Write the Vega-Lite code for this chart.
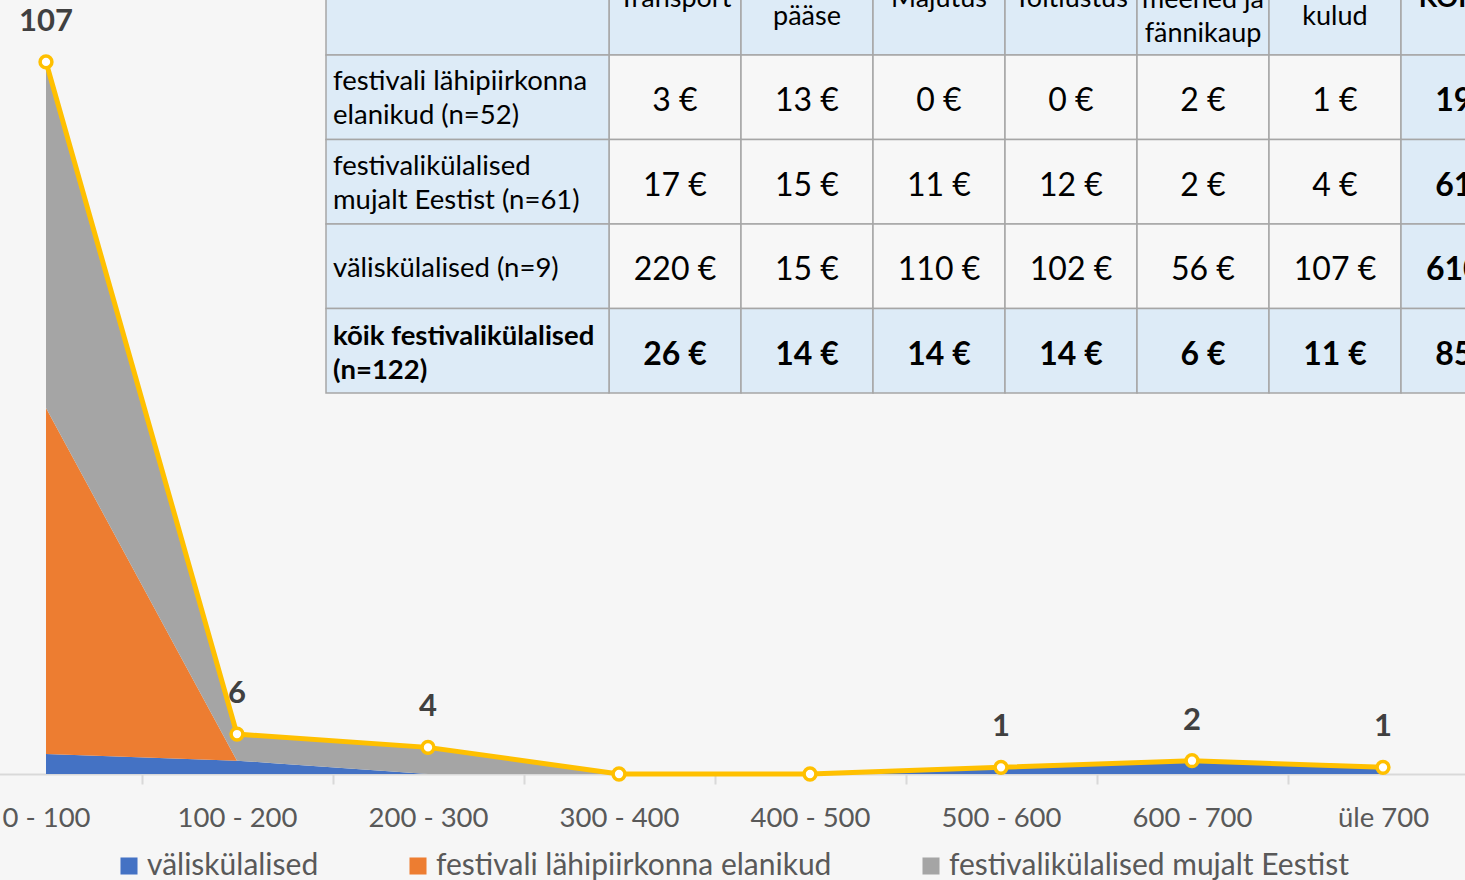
{
  "$schema": "https://vega.github.io/schema/vega-lite/v6.json",
  "width": 1465,
  "height": 774,
  "autosize": {"type": "none"},
  "padding": {"left": 0, "top": 0, "right": 0, "bottom": 106},
  "background": "#F6F6F6",
  "config": {
    "view": {"stroke": null},
    "font": "Lato",
    "axisX": {
      "domainColor": "#D9D9D9",
      "domainWidth": 2,
      "tickColor": "#D9D9D9",
      "tickWidth": 2,
      "tickSize": 10,
      "labelFont": "Lato",
      "labelFontSize": 27.5,
      "labelColor": "#595959",
      "labelPadding": 20,
      "labelAngle": 0,
      "tickBand": "extent",
      "grid": false
    }
  },
  "datasets": {
    "jaotus": [
      {"vahemik": "0 - 100", "grupp": "väliskülalised", "jrk": 1, "arv": 3},
      {"vahemik": "100 - 200", "grupp": "väliskülalised", "jrk": 1, "arv": 2},
      {"vahemik": "200 - 300", "grupp": "väliskülalised", "jrk": 1, "arv": 0},
      {"vahemik": "300 - 400", "grupp": "väliskülalised", "jrk": 1, "arv": 0},
      {"vahemik": "400 - 500", "grupp": "väliskülalised", "jrk": 1, "arv": 0},
      {"vahemik": "500 - 600", "grupp": "väliskülalised", "jrk": 1, "arv": 1},
      {"vahemik": "600 - 700", "grupp": "väliskülalised", "jrk": 1, "arv": 2},
      {"vahemik": "üle 700", "grupp": "väliskülalised", "jrk": 1, "arv": 1},
      {"vahemik": "0 - 100", "grupp": "festivali lähipiirkonna elanikud", "jrk": 2, "arv": 52},
      {"vahemik": "100 - 200", "grupp": "festivali lähipiirkonna elanikud", "jrk": 2, "arv": 0},
      {"vahemik": "200 - 300", "grupp": "festivali lähipiirkonna elanikud", "jrk": 2, "arv": 0},
      {"vahemik": "300 - 400", "grupp": "festivali lähipiirkonna elanikud", "jrk": 2, "arv": 0},
      {"vahemik": "400 - 500", "grupp": "festivali lähipiirkonna elanikud", "jrk": 2, "arv": 0},
      {"vahemik": "500 - 600", "grupp": "festivali lähipiirkonna elanikud", "jrk": 2, "arv": 0},
      {"vahemik": "600 - 700", "grupp": "festivali lähipiirkonna elanikud", "jrk": 2, "arv": 0},
      {"vahemik": "üle 700", "grupp": "festivali lähipiirkonna elanikud", "jrk": 2, "arv": 0},
      {"vahemik": "0 - 100", "grupp": "festivalikülalised mujalt Eestist", "jrk": 3, "arv": 52},
      {"vahemik": "100 - 200", "grupp": "festivalikülalised mujalt Eestist", "jrk": 3, "arv": 4},
      {"vahemik": "200 - 300", "grupp": "festivalikülalised mujalt Eestist", "jrk": 3, "arv": 4},
      {"vahemik": "300 - 400", "grupp": "festivalikülalised mujalt Eestist", "jrk": 3, "arv": 0},
      {"vahemik": "400 - 500", "grupp": "festivalikülalised mujalt Eestist", "jrk": 3, "arv": 0},
      {"vahemik": "500 - 600", "grupp": "festivalikülalised mujalt Eestist", "jrk": 3, "arv": 0},
      {"vahemik": "600 - 700", "grupp": "festivalikülalised mujalt Eestist", "jrk": 3, "arv": 0},
      {"vahemik": "üle 700", "grupp": "festivalikülalised mujalt Eestist", "jrk": 3, "arv": 0}
    ],
    "kokku": [
      {"vahemik": "0 - 100", "kokku": 107},
      {"vahemik": "100 - 200", "kokku": 6},
      {"vahemik": "200 - 300", "kokku": 4},
      {"vahemik": "300 - 400", "kokku": 0},
      {"vahemik": "400 - 500", "kokku": 0},
      {"vahemik": "500 - 600", "kokku": 1},
      {"vahemik": "600 - 700", "kokku": 2},
      {"vahemik": "üle 700", "kokku": 1}
    ],
    "tabel": [
      {"rida": "päis", "veerg": "Transport", "tekst": "Transport"},
      {"rida": "päis", "veerg": "Festivali pääse", "tekst": "Festivali\npääse"},
      {"rida": "päis", "veerg": "Majutus", "tekst": "Majutus"},
      {"rida": "päis", "veerg": "Toitlustus", "tekst": "Toitlustus"},
      {"rida": "päis", "veerg": "Suveniirid, meened ja fännikaup", "tekst": "Suveniirid,\nmeened ja\nfännikaup"},
      {"rida": "päis", "veerg": "Muud kulud", "tekst": "Muud\nkulud"},
      {"rida": "päis", "veerg": "KOKKU", "tekst": "KOKKU"},
      {"rida": "lähipiirkond", "veerg": "Transport", "tekst": "3 €"},
      {"rida": "lähipiirkond", "veerg": "Festivali pääse", "tekst": "13 €"},
      {"rida": "lähipiirkond", "veerg": "Majutus", "tekst": "0 €"},
      {"rida": "lähipiirkond", "veerg": "Toitlustus", "tekst": "0 €"},
      {"rida": "lähipiirkond", "veerg": "Suveniirid, meened ja fännikaup", "tekst": "2 €"},
      {"rida": "lähipiirkond", "veerg": "Muud kulud", "tekst": "1 €"},
      {"rida": "lähipiirkond", "veerg": "KOKKU", "tekst": "19 €"},
      {"rida": "mujalt", "veerg": "Transport", "tekst": "17 €"},
      {"rida": "mujalt", "veerg": "Festivali pääse", "tekst": "15 €"},
      {"rida": "mujalt", "veerg": "Majutus", "tekst": "11 €"},
      {"rida": "mujalt", "veerg": "Toitlustus", "tekst": "12 €"},
      {"rida": "mujalt", "veerg": "Suveniirid, meened ja fännikaup", "tekst": "2 €"},
      {"rida": "mujalt", "veerg": "Muud kulud", "tekst": "4 €"},
      {"rida": "mujalt", "veerg": "KOKKU", "tekst": "61 €"},
      {"rida": "välis", "veerg": "Transport", "tekst": "220 €"},
      {"rida": "välis", "veerg": "Festivali pääse", "tekst": "15 €"},
      {"rida": "välis", "veerg": "Majutus", "tekst": "110 €"},
      {"rida": "välis", "veerg": "Toitlustus", "tekst": "102 €"},
      {"rida": "välis", "veerg": "Suveniirid, meened ja fännikaup", "tekst": "56 €"},
      {"rida": "välis", "veerg": "Muud kulud", "tekst": "107 €"},
      {"rida": "välis", "veerg": "KOKKU", "tekst": "610 €"},
      {"rida": "kõik", "veerg": "Transport", "tekst": "26 €"},
      {"rida": "kõik", "veerg": "Festivali pääse", "tekst": "14 €"},
      {"rida": "kõik", "veerg": "Majutus", "tekst": "14 €"},
      {"rida": "kõik", "veerg": "Toitlustus", "tekst": "14 €"},
      {"rida": "kõik", "veerg": "Suveniirid, meened ja fännikaup", "tekst": "6 €"},
      {"rida": "kõik", "veerg": "Muud kulud", "tekst": "11 €"},
      {"rida": "kõik", "veerg": "KOKKU", "tekst": "85 €"}
    ],
    "sildid": [
      {"rida": "päis", "veerg": "silt", "tekst": ""},
      {"rida": "lähipiirkond", "veerg": "silt", "tekst": "festivali lähipiirkonna\nelanikud (n=52)"},
      {"rida": "mujalt", "veerg": "silt", "tekst": "festivalikülalised\nmujalt Eestist (n=61)"},
      {"rida": "välis", "veerg": "silt", "tekst": "väliskülalised (n=9)"},
      {"rida": "kõik", "veerg": "silt", "tekst": "kõik festivalikülalised\n(n=122)"}
    ]
  },
  "layer": [
    {
      "layer": [
        {
          "data": {"name": "jaotus"},
          "mark": {"type": "area", "opacity": 1},
          "encoding": {
            "x": {
              "field": "vahemik",
              "type": "nominal",
              "sort": null,
              "title": null,
              "scale": {
                "type": "band",
                "domain": ["0 - 100", "100 - 200", "200 - 300", "300 - 400", "400 - 500", "500 - 600", "600 - 700", "üle 700"],
                "range": [-49.5, 1478.5],
                "paddingInner": 0,
                "paddingOuter": 0
              }
            },
            "y": {
              "field": "arv",
              "type": "quantitative",
              "stack": "zero",
              "axis": null,
              "scale": {"domain": [0, 116.3], "nice": false, "zero": true}
            },
            "order": {"field": "jrk", "type": "quantitative"},
            "color": {
              "field": "grupp",
              "type": "nominal",
              "scale": {
                "domain": ["väliskülalised", "festivali lähipiirkonna elanikud", "festivalikülalised mujalt Eestist"],
                "range": ["#4472C4", "#ED7D31", "#A5A5A5"]
              },
              "legend": {
                "title": null,
                "orient": "none",
                "legendX": 114,
                "legendY": 851,
                "direction": "horizontal",
                "columns": 3,
                "symbolType": "square",
                "symbolSize": 290,
                "symbolStrokeWidth": 0,
                "symbolOpacity": 1,
                "labelFont": "Lato",
                "labelFontSize": 30,
                "labelColor": "#595959",
                "labelLimit": 1000,
                "columnPadding": 84,
                "labelOffset": 3,
                "padding": 0
              }
            }
          }
        },
        {
          "data": {"name": "kokku"},
          "mark": {"type": "line", "color": "#FFC000", "strokeWidth": 5},
          "encoding": {
            "x": {"field": "vahemik", "type": "nominal", "sort": null, "title": null},
            "y": {"field": "kokku", "type": "quantitative", "axis": null}
          }
        },
        {
          "data": {"name": "kokku"},
          "mark": {"type": "point", "filled": true, "fill": "#FFFFFF", "stroke": "#FFC000", "strokeWidth": 3.5, "size": 140, "opacity": 1},
          "encoding": {
            "x": {"field": "vahemik", "type": "nominal", "sort": null, "title": null},
            "y": {"field": "kokku", "type": "quantitative", "axis": null}
          }
        },
        {
          "data": {"name": "kokku"},
          "transform": [{"filter": "datum.kokku > 0"}],
          "mark": {"type": "text", "font": "Lato", "fontWeight": "bold", "fontSize": 31, "color": "#404040", "dy": -40, "baseline": "middle"},
          "encoding": {
            "x": {"field": "vahemik", "type": "nominal", "sort": null, "title": null},
            "y": {"field": "kokku", "type": "quantitative", "axis": null},
            "text": {"field": "kokku", "type": "quantitative"}
          }
        }
      ]
    },
    {
      "data": {"name": "tabel"},
      "encoding": {
        "x": {
          "field": "veerg",
          "type": "nominal",
          "sort": null,
          "axis": null,
          "scale": {
            "type": "band",
            "domain": ["Transport", "Festivali pääse", "Majutus", "Toitlustus", "Suveniirid, meened ja fännikaup", "Muud kulud", "KOKKU"],
            "range": [609, 1533],
            "paddingInner": 0,
            "paddingOuter": 0
          }
        },
        "y": {
          "field": "rida",
          "type": "nominal",
          "sort": null,
          "axis": null,
          "scale": {
            "type": "band",
            "domain": ["päis", "lähipiirkond", "mujalt", "välis", "kõik"],
            "range": [-29.5, 393],
            "paddingInner": 0,
            "paddingOuter": 0
          }
        }
      },
      "layer": [
        {
          "mark": {"type": "rect", "stroke": "#A6A6A6", "strokeWidth": 1.5},
          "encoding": {
            "fill": {
              "condition": {"test": "datum.rida === 'päis' || datum.rida === 'kõik' || datum.veerg === 'KOKKU'", "value": "#DDEBF7"},
              "value": "#F7F7F7"
            }
          }
        },
        {
          "transform": [{"filter": "datum.rida === 'päis' && (datum.veerg === 'Transport' || datum.veerg === 'Majutus' || datum.veerg === 'Toitlustus')"}],
          "mark": {"type": "text", "font": "Lato", "fontSize": 27, "lineHeight": 34, "lineBreak": "\n", "color": "#000000", "dy": -14, "baseline": "middle", "align": "center"},
          "encoding": {"text": {"field": "tekst", "type": "nominal"}}
        },
        {
          "transform": [{"filter": "datum.rida === 'päis' && (datum.veerg === 'Festivali pääse' || datum.veerg === 'Muud kulud')"}],
          "mark": {"type": "text", "font": "Lato", "fontSize": 27, "lineHeight": 34, "lineBreak": "\n", "color": "#000000", "dy": -30, "baseline": "middle", "align": "center"},
          "encoding": {"text": {"field": "tekst", "type": "nominal"}}
        },
        {
          "transform": [{"filter": "datum.rida === 'päis' && datum.veerg === 'Suveniirid, meened ja fännikaup'"}],
          "mark": {"type": "text", "font": "Lato", "fontSize": 27, "lineHeight": 34, "lineBreak": "\n", "color": "#000000", "dy": -47, "baseline": "middle", "align": "center"},
          "encoding": {"text": {"field": "tekst", "type": "nominal"}}
        },
        {
          "transform": [{"filter": "datum.rida === 'päis' && datum.veerg === 'KOKKU'"}],
          "mark": {"type": "text", "font": "Lato", "fontSize": 27, "fontWeight": "bold", "lineHeight": 34, "lineBreak": "\n", "color": "#000000", "dy": -14, "baseline": "middle", "align": "center"},
          "encoding": {"text": {"field": "tekst", "type": "nominal"}}
        },
        {
          "transform": [{"filter": "datum.rida !== 'päis' && datum.rida !== 'kõik' && datum.veerg !== 'KOKKU'"}],
          "mark": {"type": "text", "font": "Lato", "fontSize": 32, "color": "#000000", "dy": 4, "baseline": "middle", "align": "center"},
          "encoding": {"text": {"field": "tekst", "type": "nominal"}}
        },
        {
          "transform": [{"filter": "datum.rida !== 'päis' && (datum.rida === 'kõik' || datum.veerg === 'KOKKU')"}],
          "mark": {"type": "text", "font": "Lato", "fontSize": 32, "fontWeight": "bold", "color": "#000000", "dy": 4, "baseline": "middle", "align": "center"},
          "encoding": {"text": {"field": "tekst", "type": "nominal"}}
        }
      ]
    },
    {
      "data": {"name": "sildid"},
      "encoding": {
        "x": {
          "field": "veerg",
          "type": "nominal",
          "axis": null,
          "scale": {"type": "band", "domain": ["silt"], "range": [326, 609], "paddingInner": 0, "paddingOuter": 0}
        },
        "y": {
          "field": "rida",
          "type": "nominal",
          "sort": null,
          "axis": null,
          "scale": {
            "type": "band",
            "domain": ["päis", "lähipiirkond", "mujalt", "välis", "kõik"],
            "range": [-29.5, 393],
            "paddingInner": 0,
            "paddingOuter": 0
          }
        }
      },
      "layer": [
        {
          "mark": {"type": "rect", "stroke": "#A6A6A6", "strokeWidth": 1.5, "fill": "#DDEBF7"},
          "encoding": {}
        },
        {
          "transform": [{"filter": "datum.rida === 'lähipiirkond' || datum.rida === 'mujalt'"}],
          "mark": {"type": "text", "font": "Lato", "fontSize": 27.5, "lineHeight": 34, "lineBreak": "\n", "color": "#000000", "baseline": "middle", "align": "left", "dx": 7, "dy": -15},
          "encoding": {
            "x": {"field": "veerg", "type": "nominal", "bandPosition": 0},
            "text": {"field": "tekst", "type": "nominal"}
          }
        },
        {
          "transform": [{"filter": "datum.rida === 'välis'"}],
          "mark": {"type": "text", "font": "Lato", "fontSize": 27.5, "lineHeight": 34, "lineBreak": "\n", "color": "#000000", "baseline": "middle", "align": "left", "dx": 7, "dy": 3},
          "encoding": {
            "x": {"field": "veerg", "type": "nominal", "bandPosition": 0},
            "text": {"field": "tekst", "type": "nominal"}
          }
        },
        {
          "transform": [{"filter": "datum.rida === 'kõik'"}],
          "mark": {"type": "text", "font": "Lato", "fontSize": 27.5, "fontWeight": "bold", "lineHeight": 34, "lineBreak": "\n", "color": "#000000", "baseline": "middle", "align": "left", "dx": 7, "dy": -14},
          "encoding": {
            "x": {"field": "veerg", "type": "nominal", "bandPosition": 0},
            "text": {"field": "tekst", "type": "nominal"}
          }
        }
      ]
    }
  ],
  "resolve": {"scale": {"x": "independent", "y": "independent"}}
}
